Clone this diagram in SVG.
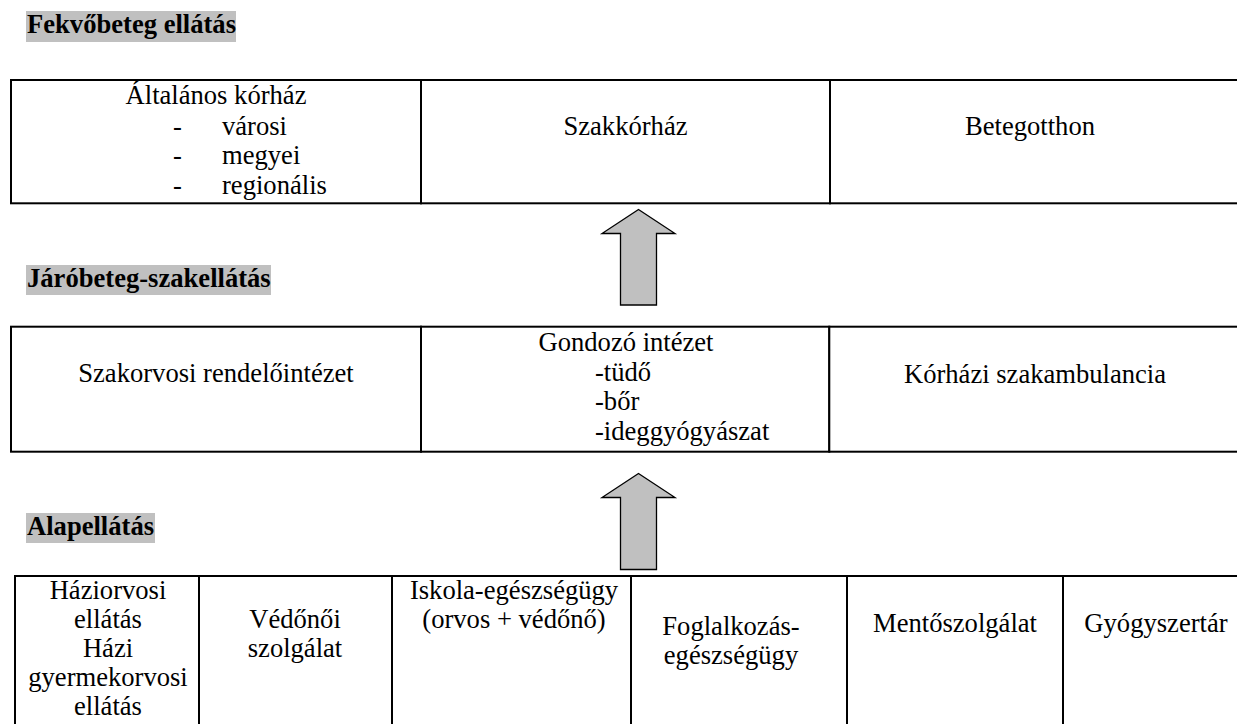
<svg xmlns="http://www.w3.org/2000/svg" width="1237" height="724" viewBox="0 0 1237 724">
  <style>
    .bg { fill: #ffffff; }
    .cell { fill: #ffffff; stroke: #000000; stroke-width: 2; }
    .hl { fill: #c0c0c0; }
    text { font-family: 'Liberation Serif', Tinos, 'Times New Roman', 'DejaVu Serif', serif; font-size: 26.6px; fill: #000000; }
    .head { font-weight: bold; }
    .c { text-anchor: middle; }
    .arrow { fill: #c0c0c0; stroke: #000000; stroke-width: 1.3; stroke-linejoin: miter; }
  </style>
  <rect class="bg" x="0" y="0" width="1237" height="724"/>

  <!-- level headings -->
  <g id="heading-fekvobeteg">
    <rect class="hl" x="26" y="11" width="210" height="31"/>
    <text class="head" x="27" y="33">Fekvőbeteg ellátás</text>
  </g>
  <g id="heading-jarobeteg">
    <rect class="hl" x="26" y="265" width="245" height="30"/>
    <text class="head" x="27" y="287">Járóbeteg-szakellátás</text>
  </g>
  <g id="heading-alapellatas">
    <rect class="hl" x="26" y="513" width="129" height="30"/>
    <text class="head" x="27" y="535">Alapellátás</text>
  </g>

  <!-- inpatient row -->
  <g id="altalanos-korhaz">
    <rect class="cell" x="11" y="80" width="410" height="123.3"/>
    <text class="c" x="216" y="104">Általános kórház</text>
    <text x="173" y="134.5">-</text>
    <text x="222" y="134.5">városi</text>
    <text x="173" y="164">-</text>
    <text x="222" y="164">megyei</text>
    <text x="173" y="193.5">-</text>
    <text x="222" y="193.5">regionális</text>
  </g>
  <g id="szakkorhaz">
    <rect class="cell" x="421" y="80" width="409" height="123.3"/>
    <text class="c" x="625.5" y="135">Szakkórház</text>
  </g>
  <g id="betegotthon">
    <rect class="cell" x="830" y="80" width="420" height="123.3"/>
    <text class="c" x="1030" y="135">Betegotthon</text>
  </g>

  <!-- outpatient row -->
  <g id="szakorvosi-rendelointezet">
    <rect class="cell" x="11" y="326.7" width="410" height="125"/>
    <text class="c" x="216" y="382">Szakorvosi rendelőintézet</text>
  </g>
  <g id="gondozo-intezet">
    <rect class="cell" x="421" y="326.7" width="408.3" height="125"/>
    <text class="c" x="626" y="351">Gondozó intézet</text>
    <text x="595" y="380.5">-tüdő</text>
    <text x="595" y="410">-bőr</text>
    <text x="595" y="439.5">-ideggyógyászat</text>
  </g>
  <g id="korhazi-szakambulancia">
    <rect class="cell" x="829.3" y="326.7" width="420" height="125"/>
    <text class="c" x="1035" y="382.5">Kórházi szakambulancia</text>
  </g>

  <!-- primary care row -->
  <g id="haziorvosi-ellatas">
    <rect class="cell" x="15" y="576" width="184" height="160"/>
    <text class="c" x="108" y="599">Háziorvosi</text>
    <text class="c" x="108" y="628">ellátás</text>
    <text class="c" x="108" y="657">Házi</text>
    <text class="c" x="108" y="686">gyermekorvosi</text>
    <text class="c" x="108" y="715">ellátás</text>
  </g>
  <g id="vedonoi-szolgalat">
    <rect class="cell" x="199" y="576" width="193" height="160"/>
    <text class="c" x="295" y="628">Védőnői</text>
    <text class="c" x="295" y="657">szolgálat</text>
  </g>
  <g id="iskola-egeszsegugy">
    <rect class="cell" x="392" y="576" width="239" height="160"/>
    <text class="c" x="514" y="599">Iskola-egészségügy</text>
    <text class="c" x="514" y="628">(orvos + védőnő)</text>
  </g>
  <g id="foglalkozas-egeszsegugy">
    <rect class="cell" x="631" y="576" width="216" height="160"/>
    <text class="c" x="731" y="635">Foglalkozás-</text>
    <text class="c" x="731" y="664">egészségügy</text>
  </g>
  <g id="mentoszolgalat">
    <rect class="cell" x="847" y="576" width="216" height="160"/>
    <text class="c" x="955" y="631.5">Mentőszolgálat</text>
  </g>
  <g id="gyogyszertar">
    <rect class="cell" x="1063" y="576" width="200" height="160"/>
    <text class="c" x="1156" y="631.5">Gyógyszertár</text>
  </g>

  <!-- upward block arrows between levels -->
  <g id="connectors">
    <polygon class="arrow" points="638.5,209.5 675,233.5 656.5,233.5 656.5,305 620.5,305 620.5,233.5 602,233.5"/>
    <polygon class="arrow" points="638.5,473.5 675,497.5 656.5,497.5 656.5,569.5 620.5,569.5 620.5,497.5 602,497.5"/>
  </g>
</svg>
